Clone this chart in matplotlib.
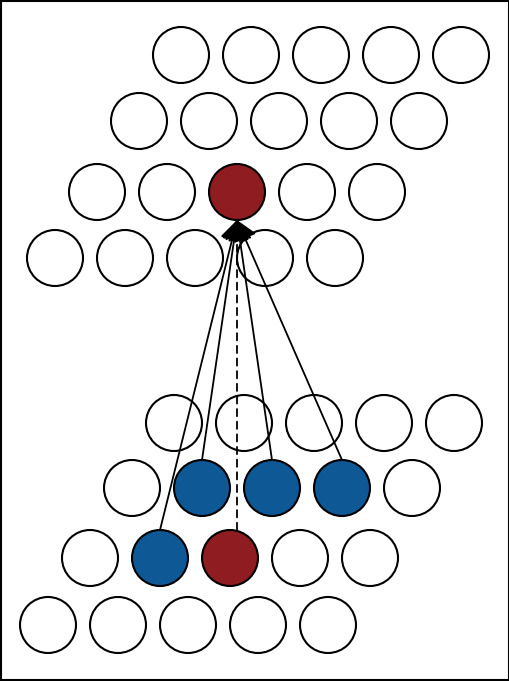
import matplotlib
matplotlib.use("Agg")
import matplotlib.pyplot as plt
from matplotlib.patches import Circle, FancyArrowPatch, Rectangle

# ---- data ----
spacing = 70
radius = 28
# top grid
top_row_y = [55, 121, 192, 258]
top_row_x0 = [181, 139, 97, 55]
top_fill = [
    ["w", "w", "w", "w", "w"],
    ["w", "w", "w", "w", "w"],
    ["w", "w", "r", "w", "w"],
    ["w", "w", "w", "w", "w"],
]
# bottom grid
bot_row_y = [423, 488, 558, 625]
bot_row_x0 = [174, 132, 90, 48]
bot_fill = [
    ["w", "w", "w", "w", "w"],
    ["w", "b", "b", "b", "w"],
    ["w", "b", "r", "w", "w"],
    ["w", "w", "w", "w", "w"],
]
# target (top red) and sources (row, col) in bottom grid
target = (2, 2)
solid_sources = [(2, 1), (1, 1), (1, 2), (1, 3)]
dashed_source = (2, 2)

colors = {"w": "white", "r": "#8E1C20", "b": "#0E5896"}

fig = plt.figure(figsize=(5.10, 6.81), dpi=100)
ax = fig.add_axes([0, 0, 1, 1])
ax.set_xlim(0, 510)
ax.set_ylim(681, 0)
ax.set_xticks([])
ax.set_yticks([])
for s in ax.spines.values():
    s.set_visible(False)
ax.add_patch(Rectangle((1, 1), 508, 679, fill=False, edgecolor="black",
                       linewidth=1.5, clip_on=False, zorder=5))


def draw_grid(row_y, row_x0, fill):
    for y, x0, frow in zip(row_y, row_x0, fill):
        for j, f in enumerate(frow):
            ax.add_patch(Circle((x0 + j * spacing, y), radius, facecolor=colors[f],
                                edgecolor="black", linewidth=1.5, zorder=2))


draw_grid(top_row_y, top_row_x0, top_fill)
draw_grid(bot_row_y, bot_row_x0, bot_fill)

tx = top_row_x0[target[0]] + target[1] * spacing
ty = top_row_y[target[0]] + radius

def src(rc):
    r, c = rc
    return bot_row_x0[r] + c * spacing, bot_row_y[r] - radius

style = "-|>,head_length=0.45,head_width=0.27"
for rc in solid_sources:
    sx, sy = src(rc)
    ax.add_patch(FancyArrowPatch((sx, sy), (tx, ty), arrowstyle=style,
                                 mutation_scale=28, color="black", linewidth=1.3,
                                 shrinkA=0, shrinkB=0, zorder=3))

sx, sy = src(dashed_source)
sx = tx
ax.add_patch(FancyArrowPatch((sx, sy), (tx, ty), arrowstyle=style,
                             mutation_scale=28, color="black", linewidth=1.3,
                             linestyle=(0, (4, 3)),
                             shrinkA=0, shrinkB=0, zorder=3))

fig.savefig("out.png", dpi=100)
